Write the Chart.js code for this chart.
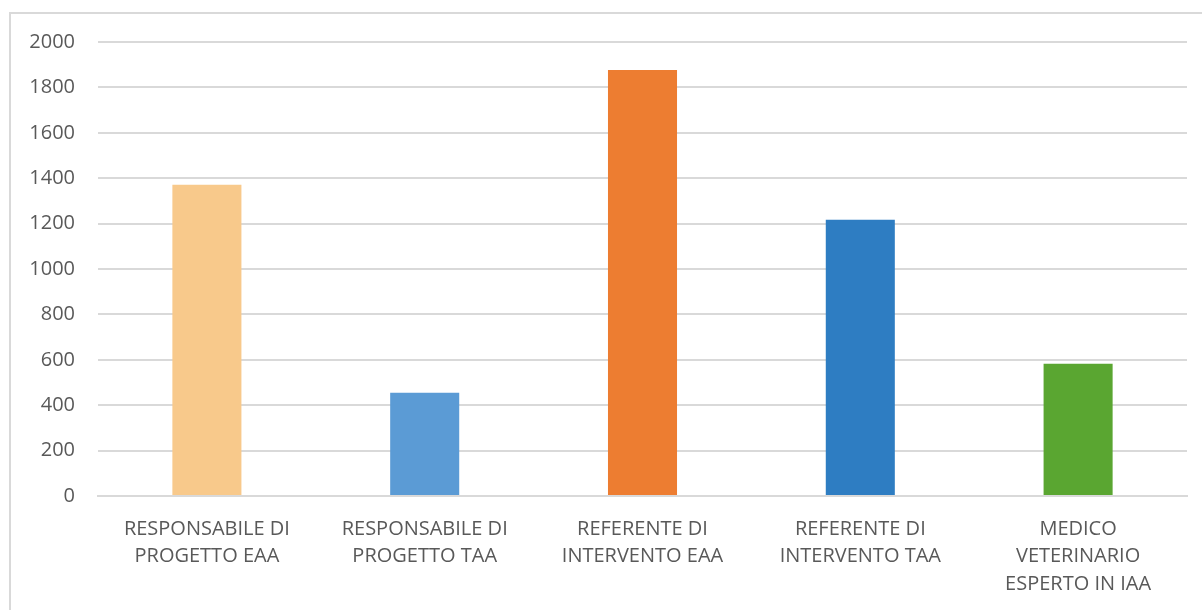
<!DOCTYPE html>
<html>
<head>
<meta charset="utf-8">
<script src="https://cdn.jsdelivr.net/npm/chart.js@4"></script>
<style>
  html, body { margin: 0; padding: 0; background: #ffffff; overflow: hidden; }
  #wrap { position: relative; width: 1202px; height: 610px; }
  #frame {
    position: absolute; left: 9px; top: 12px; width: 1300px; height: 700px;
    border-left: 2px solid #d9d9d9; border-top: 2px solid #d9d9d9;
    box-sizing: border-box;
  }
  #chart { position: absolute; left: 0; top: 0; }
</style>
</head>
<body>
<div id="wrap">
  <div id="frame"></div>
  <canvas id="chart" width="1202" height="610"></canvas>
</div>
<script>
Chart.defaults.font.family = "'Open Sans', 'Liberation Sans', sans-serif";
Chart.defaults.color = "#595959";

// categorie (etichette su piu righe)
var Ruoli = [
    ["RESPONSABILE DI", "PROGETTO EAA"],
    ["RESPONSABILE DI", "PROGETTO TAA"],
    ["REFERENTE DI", "INTERVENTO EAA"],
    ["REFERENTE DI", "INTERVENTO TAA"],
    ["MEDICO", "VETERINARIO", "ESPERTO IN IAA"]
]
var Numero = [1371, 455, 1877, 1217, 583]
var ColoriBarre = ["#F8C98B", "#5B9BD5", "#ED7D31", "#2E7DC2", "#5AA631"]
var AsseY = { min: 0, max: 2000, step: 200 }

var config_Ruoli = {
    type: 'bar',
    data: {
        labels: Ruoli,
        datasets: [{
            data: Numero,
            backgroundColor: ColoriBarre,
            borderWidth: 0,
            categoryPercentage: 1,
            barPercentage: 0.317
        }]
    },
    options: {
        responsive: false,
        animation: false,
        layout: {
            padding: { left: 0, right: 15, top: 42, bottom: 0 }
        },
        plugins: {
            legend: { display: false },
            tooltip: { enabled: false }
        },
        scales: {
            x: {
                grid: { display: false, drawTicks: false },
                border: { color: '#d9d9d9', width: 2 },
                ticks: {
                    padding: 19,
                    maxRotation: 0,
                    autoSkip: false,
                    font: { size: 20, lineHeight: 1.38 }
                },
                afterFit: function (scale) { scale.height = 114; }
            },
            y: {
                min: AsseY.min,
                max: AsseY.max,
                grid: { color: '#d9d9d9', lineWidth: 2, drawTicks: false },
                border: { display: false },
                ticks: {
                    stepSize: AsseY.step,
                    padding: 23,
                    font: { size: 20 },
                    callback: function (value) { return String(value); }
                },
                afterFit: function (scale) { scale.width = 98; }
            }
        }
    }
}

var RuoliChart = new Chart(document.getElementById('chart').getContext('2d'), config_Ruoli);
</script>
</body>
</html>
